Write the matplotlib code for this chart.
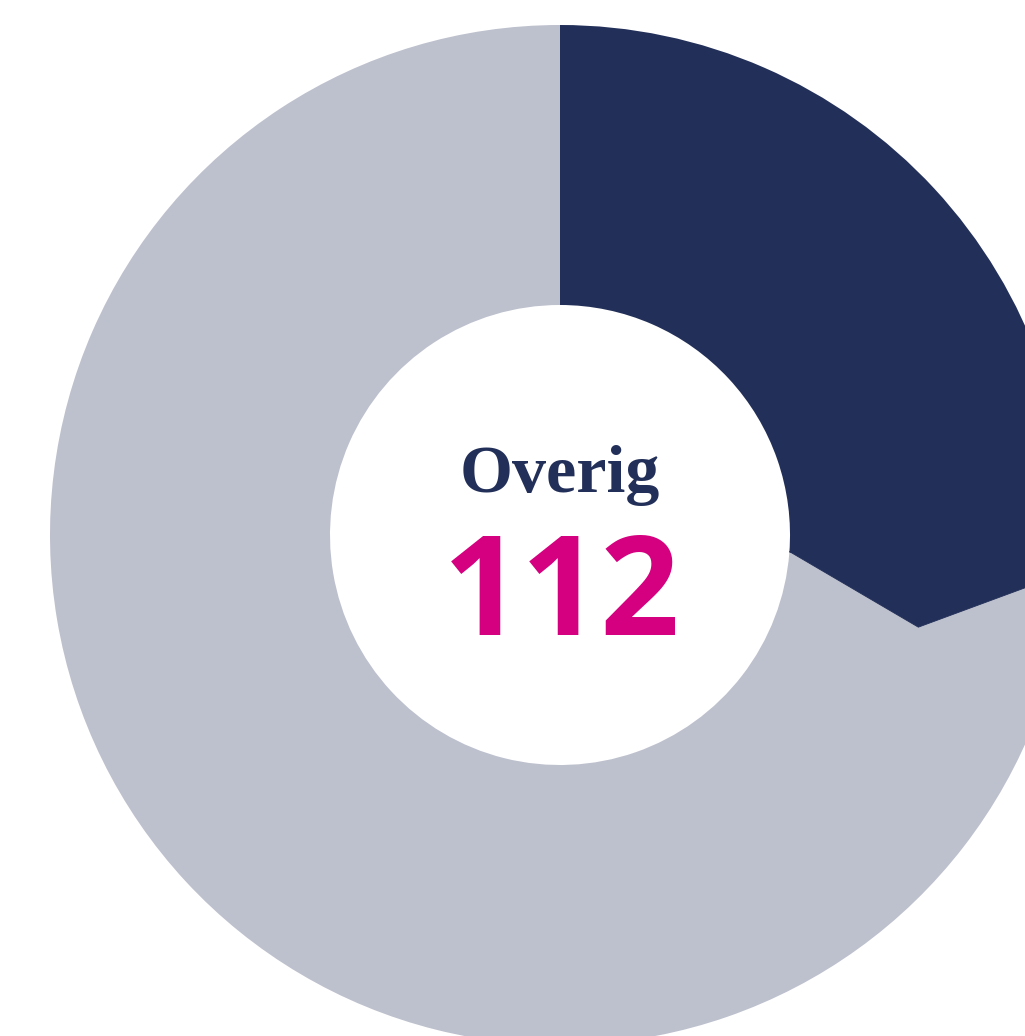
import numpy as np
import matplotlib
matplotlib.use('Agg')
import matplotlib.pyplot as plt
from matplotlib.patches import Polygon

labels = ['Overig', 'Rest']
values = [112, 315]
colors = ['#222f58', '#bdc0cd']
center_label = 'Overig'
center_value = '112'

fig = plt.figure(figsize=(10.25, 10.36), dpi=100)
ax = fig.add_axes([0, 0, 1, 1])

ring = 0.549
wedges, _ = ax.pie(values, colors=colors, startangle=90, counterclock=False,
                   radius=1, wedgeprops=dict(width=ring, linewidth=0))

# arrow-shaped end on the highlighted slice
w = wedges[0]
end = np.deg2rad(w.theta1 + 0.3)
tip = np.deg2rad(w.theta1 - 10)
r_in, r_out = 1 - ring, 1
r_mid = (r_in + r_out) / 2
tri = [(r_in * np.cos(end), r_in * np.sin(end)),
       (r_mid * np.cos(tip), r_mid * np.sin(tip)),
       (r_out * np.cos(end), r_out * np.sin(end))]
ax.add_patch(Polygon(tri, closed=True, facecolor=colors[0], edgecolor=colors[0],
                     linewidth=0.6, zorder=3))

ax.text(0.0, 0.084, center_label, ha='center', va='baseline', fontsize=49,
        fontweight='bold', family='Liberation Serif', color='#222f58')
ax.text(0.004, -0.196, center_value, ha='center', va='baseline', fontsize=100,
        fontweight='bold', family='Open Sans', color='#d4007f')

ax.set_xlim(-560 / 510, 465 / 510)
ax.set_ylim(-501 / 510, 535 / 510)
ax.set_aspect('auto')
ax.axis('off')

fig.savefig('out.png', dpi=100)
